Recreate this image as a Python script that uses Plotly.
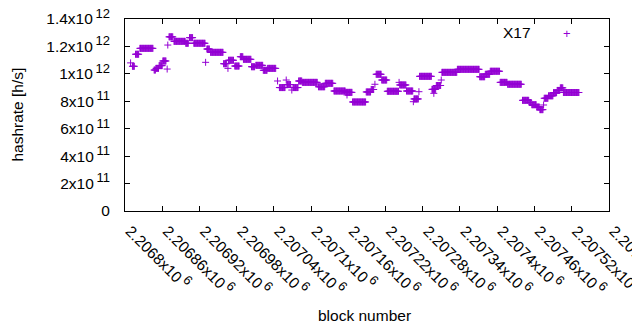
import plotly.graph_objects as go

# Step segments of hashrate (value in units of 1e11 h/s)
seg_start = [2206809, 2206812, 2206817, 2206824, 2206847, 2206850, 2206855, 2206861, 2206868, 2206869,
             2206871, 2206879, 2206898, 2206904, 2206911, 2206930, 2206932, 2206938, 2206959, 2206966,
             2206967, 2206977, 2206986, 2206991, 2207004, 2207011, 2207023, 2207030, 2207046, 2207049,
             2207060, 2207061, 2207069, 2207071, 2207080, 2207086, 2207112, 2207123, 2207137, 2207156,
             2207158, 2207167, 2207189, 2207197, 2207203, 2207205, 2207214, 2207223, 2207242, 2207243,
             2207254, 2207265, 2207266, 2207274, 2207275, 2207295, 2207298, 2207302, 2207310, 2207311,
             2207336, 2207372, 2207381, 2207389, 2207405, 2207417, 2207441, 2207452, 2207456, 2207464,
             2207469, 2207475, 2207476, 2207483, 2207491, 2207497, 2207502, 2207507]
seg_end = [2206809, 2206815, 2206822, 2206845, 2206849, 2206854, 2206860, 2206866, 2206868, 2206869,
           2206877, 2206897, 2206902, 2206909, 2206929, 2206930, 2206936, 2206958, 2206964, 2206966,
           2206975, 2206984, 2206990, 2207003, 2207009, 2207022, 2207029, 2207043, 2207046, 2207058,
           2207060, 2207067, 2207069, 2207079, 2207085, 2207110, 2207122, 2207135, 2207155, 2207166,
           2207158, 2207188, 2207196, 2207201, 2207203, 2207213, 2207222, 2207241, 2207242, 2207253,
           2207264, 2207265, 2207273, 2207274, 2207294, 2207301, 2207298, 2207309, 2207310, 2207335,
           2207371, 2207380, 2207388, 2207404, 2207416, 2207439, 2207451, 2207455, 2207463, 2207468,
           2207474, 2207475, 2207482, 2207490, 2207496, 2207501, 2207506, 2207532]
seg_value = [10.8, 10.55, 11.43, 11.86, 10.28, 10.40, 10.60, 10.94, 10.35, 12.10,
             12.70, 12.37, 12.23, 12.64, 12.23, 10.84, 11.81, 11.57, 10.74, 10.40,
             10.99, 10.57, 11.25, 11.06, 10.52, 10.62, 10.26, 10.40, 9.48, 9.00,
             9.55, 9.22, 8.82, 9.00, 9.48, 9.38, 9.06, 9.31, 8.75, 8.65,
             8.46, 7.95, 8.68, 8.86, 9.24, 9.97, 9.55, 8.73, 9.38, 9.19,
             8.75, 7.97, 8.17, 8.70, 9.82, 8.87, 8.58, 9.15, 9.55, 10.11,
             10.33, 9.79, 9.97, 10.19, 9.38, 9.24, 8.07, 7.91, 7.75, 7.58,
             7.39, 7.73, 8.22, 8.40, 8.63, 8.79, 8.98, 8.64]

x_tick_vals = [2206800, 2206860, 2206920, 2206980, 2207040, 2207100, 2207160,
               2207220, 2207280, 2207340, 2207400, 2207460, 2207520, 2207580]
x_tick_mant = ["2.2068", "2.20686", "2.20692", "2.20698", "2.20704", "2.2071", "2.20716",
               "2.20722", "2.20728", "2.20734", "2.2074", "2.20746", "2.20752", "2.20758"]
x_tick_exp = "6"
y_tick_vals = [0, 2e11, 4e11, 6e11, 8e11, 1e12, 1.2e12, 1.4e12]
y_tick_mant = ["0", "2", "4", "6", "8", "1", "1.2", "1.4"]
y_tick_exp = ["", "11", "11", "11", "11", "12", "12", "12"]

COLOR = "#9400d3"
FONT = "Liberation Sans"
FS = 15.5
SUP = "<sup><span style='font-size:13px'>&#8201;%s</span></sup>"


def label(m, e):
    return m if not e else m + "x10" + SUP % e


xs, ys = [], []
for s, e, v in zip(seg_start, seg_end, seg_value):
    for b in range(s, e + 1):
        xs.append(b)
        ys.append(v * 1e11)

fig = go.Figure()
fig.add_trace(go.Scatter(
    x=xs, y=ys, mode="markers", name="X17", showlegend=False,
    marker=dict(symbol="cross-thin", size=5, color=COLOR, line=dict(color=COLOR, width=1)),
))

axis_common = dict(showline=True, linecolor="black", linewidth=1, mirror="allticks",
                   ticks="inside", ticklen=5, tickcolor="black", tickwidth=1,
                   showgrid=False, zeroline=False, automargin=False,
                   ticklabeloverflow="allow",
                   tickfont=dict(family=FONT, size=FS, color="black"))

txt = dict(family=FONT, size=FS, color="black")

# the page body adds an 8px offset, so the figure is 8px smaller and shifted
fig.update_layout(
    width=632, height=322,
    margin=dict(l=116.5, r=31, t=11, b=119),
    paper_bgcolor="white", plot_bgcolor="white",
    font=txt,
    xaxis=dict(range=[2206800, 2207580.5], tickvals=x_tick_vals,
               ticktext=[label(m, x_tick_exp) for m in x_tick_mant],
               tickangle=45, ticklabelstandoff=4, ticklabelshift=5, **axis_common),
    yaxis=dict(range=[0, 1.4e12], tickvals=y_tick_vals,
               ticktext=[label(m, e) for m, e in zip(y_tick_mant, y_tick_exp)],
               ticklabelstandoff=11, **axis_common),
    annotations=[
        dict(text="hashrate [h/s]", xref="paper", yref="paper", x=-0.224, y=0.5,
             xanchor="center", yanchor="middle",
             textangle=-90, showarrow=False, font=txt),
        dict(text="block number", xref="paper", yref="paper", x=0.495, y=-0.542,
             xanchor="center", yanchor="middle", showarrow=False, font=txt),
        dict(text="X17", xref="paper", yref="paper", x=0.843, y=0.932,
             xanchor="right", yanchor="middle", showarrow=False, font=txt),
        dict(text="+", xref="paper", yref="paper", x=(567.3 - 124.5) / 484.5, y=0.925,
             xanchor="center", yanchor="middle",
             showarrow=False, font=dict(family=FONT, size=13, color=COLOR)),
    ],
)

fig.write_html("out.html")
